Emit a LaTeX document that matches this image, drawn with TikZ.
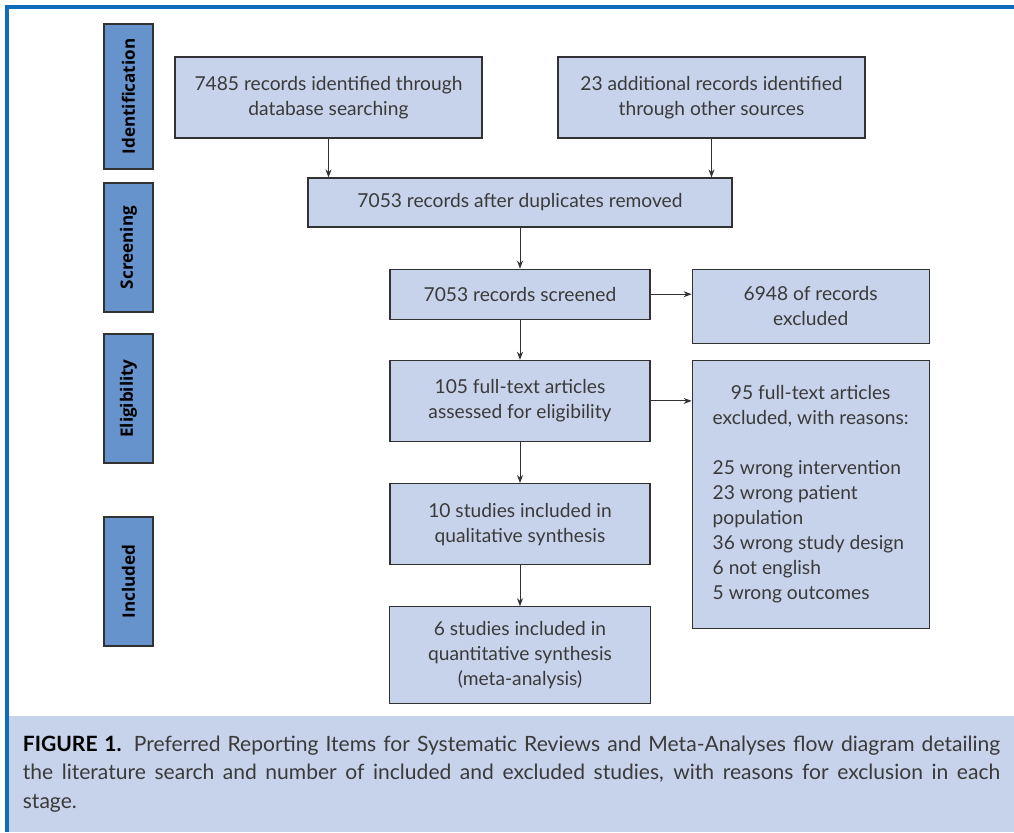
\documentclass[tikz,border=0pt]{standalone}
\usepackage{fontspec}
\setmainfont{Lato}
\newfontfamily\stagefont{Open Sans}
\usetikzlibrary{arrows.meta, positioning}
\definecolor{frameblue}{RGB}{14,108,186}
\definecolor{stageblue}{RGB}{103,147,205}
\definecolor{boxblue}{RGB}{199,211,234}
\definecolor{edgegray}{RGB}{50,50,50}
\definecolor{textgray}{RGB}{58,58,58}
\tikzstyle{rect} = [rectangle, 
			draw = edgegray, 
			fill = boxblue, 
			line width = 0.9pt, 
			text = textgray, 
			text centered, 
			align = center, 
			font = \fontsize{14.4}{18.75}\selectfont]
\tikzstyle{srect} = [rectangle, 
			draw = edgegray, 
			fill = stageblue, 
			line width = 0.9pt, 
			rotate = 90, 
			minimum width = 96.75pt, 
			minimum height = 36.75pt, 
			font = \stagefont\bfseries\fontsize{12.8}{15}\selectfont]
\tikzstyle{crect} = [rectangle, 
			fill = boxblue, 
			text = textgray, 
			align = justify, 
			text width = 733pt, 
			inner xsep = 10.4pt, 
			minimum height = 87pt, 
			font = \fontsize{15.8}{21.4}\selectfont]
\tikzstyle{arr} = [-{Stealth[length = 6pt, width = 4.5pt]}, 
			draw = edgegray, 
			line width = 0.7pt]

\begin{document}
\begin{tikzpicture}[x = 0.75pt, y = -0.75pt, node distance = 30.75pt]
	\useasboundingbox (0,0) rectangle (1014,832);
	% frame
	\draw [frameblue, line width = 3pt] (7,832) -- (7,7) -- (1014,7);
	% stages
	\node [srect, minimum width = 108.75pt] (identification) at (128.5,96.5) {Identification};
	\node [srect] (screening) at (128.5,247.5) {Screening};
	\node [srect] (eligibility) at (128.5,398.5) {Eligibility};
	\node [srect] (included) at (128.5,581.5) {Included};
	% flow
	\node [rect, minimum width = 230.25pt, minimum height = 60.75pt] (records-db) at (328.5,97.5) {7485 records identified through\\database searching};
	\node [rect, minimum width = 230.25pt, minimum height = 60.75pt] (records-other) at (711.5,97.5) {23 additional records identified\\through other sources};
	\node [rect, minimum width = 318pt, minimum height = 36.75pt] (duplicates) at (520,202.5) {7053 records after duplicates removed};
	\node [rect, below = of duplicates, minimum width = 195pt, minimum height = 37.5pt] (screened) {7053 records screened};
	\node [rect, right = 30.75pt of screened.north east, anchor = north west, minimum width = 177.75pt, minimum height = 55.5pt] (screened-excl) {6948 of records\\excluded};
	\node [rect, below = 30pt of screened, minimum width = 195pt, minimum height = 60.75pt] (fulltext) {105 full-text articles\\assessed for eligibility};
	\node [rect, right = 30.75pt of fulltext.north east, anchor = north west, minimum width = 177.75pt, minimum height = 201pt] (fulltext-excl) {\begin{tabular}{@{}l@{}}
		\multicolumn{1}{@{}c@{}}{95 full-text articles}\\
		excluded, with reasons:\\[18.75pt]
		25 wrong intervention\\
		23 wrong patient\\
		population\\
		36 wrong study design\\
		6 not english\\
		5 wrong outcomes
	\end{tabular}};
	\node [rect, below = of fulltext, minimum width = 195pt, minimum height = 60.75pt] (qualitative) {10 studies included in\\qualitative synthesis};
	\node [rect, below = of qualitative, minimum width = 195.75pt, minimum height = 72.75pt] (quantitative) {6 studies included in\\quantitative synthesis\\(meta-analysis)};
	% caption
	\node [crect] (caption) at (511.5,774) {{\bfseries\color{black}FIGURE 1.} Preferred Reporting Items for Systematic Reviews and Meta-Analyses flow diagram detailing\linebreak the literature search and number of included and excluded studies, with reasons for exclusion in each\linebreak stage.};
	% connectors
	\draw [arr] (records-db.south) -- (records-db.south |- duplicates.north);
	\draw [arr] (records-other.south) -- (records-other.south |- duplicates.north);
	\draw [arr] (duplicates) -- (screened);
	\draw [arr] (screened) -- (screened.east -| screened-excl.west);
	\draw [arr] (screened) -- (fulltext);
	\draw [arr] (fulltext) -- (fulltext.east -| fulltext-excl.west);
	\draw [arr] (fulltext) -- (qualitative);
	\draw [arr] (qualitative) -- (quantitative);
\end{tikzpicture}
\end{document}
